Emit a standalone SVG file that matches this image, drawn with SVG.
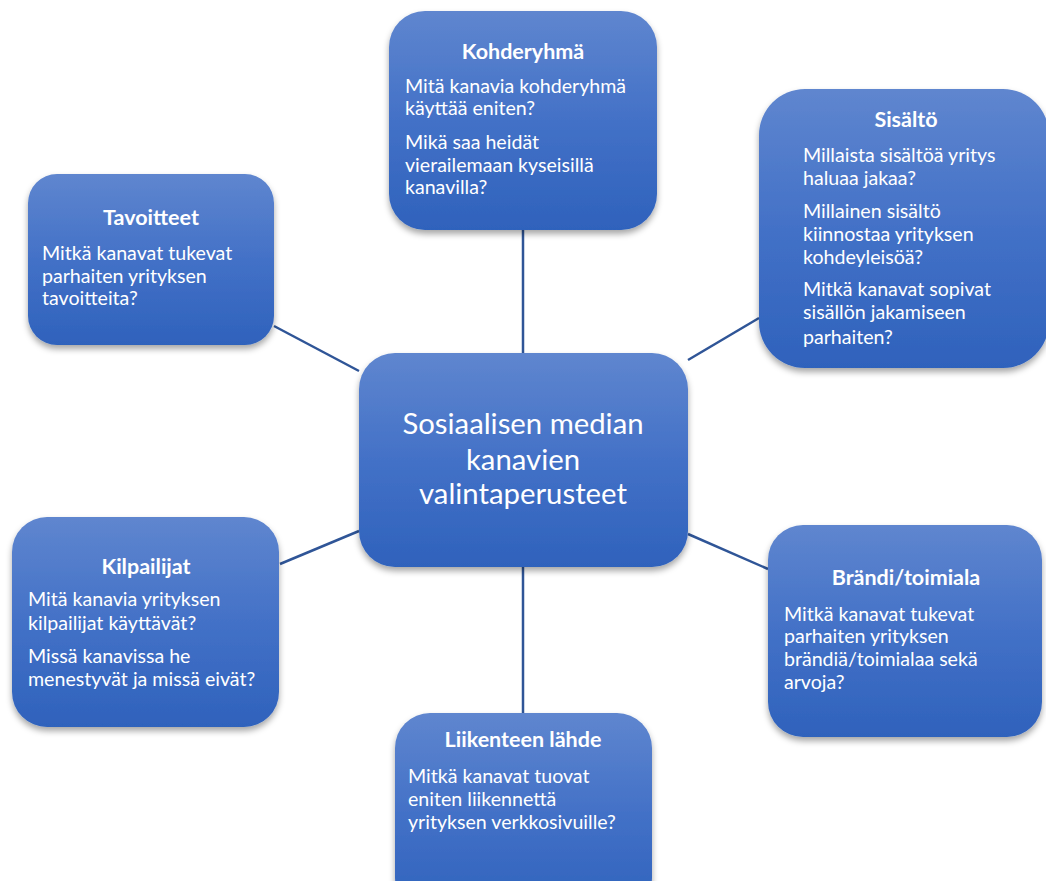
<svg xmlns="http://www.w3.org/2000/svg" width="1046" height="881" viewBox="0 0 1046 881">
<defs>
<linearGradient id="g" x1="0" y1="0" x2="0" y2="1">
<stop offset="0" stop-color="#5f86cf"/>
<stop offset="0.5" stop-color="#4371c7"/>
<stop offset="1" stop-color="#2f62bc"/>
</linearGradient>
<filter id="sh" x="-10%" y="-10%" width="120%" height="125%">
<feDropShadow dx="0" dy="4" stdDeviation="3" flood-color="#000" flood-opacity="0.35"/>
</filter>
</defs>
<style>
.box{fill:url(#g);filter:url(#sh)}
.t{font-family:Lato,"Open Sans",sans-serif;font-weight:bold;font-size:21.5px;fill:#fff;text-anchor:middle}
.b{font-family:Lato,"Open Sans",sans-serif;font-size:19.6px;fill:#fff}
.c{font-family:Lato,"Open Sans",sans-serif;font-size:29.3px;fill:#fff;text-anchor:middle}
.ln{stroke:#2f5597;stroke-width:2.5;fill:none}
</style>
<rect width="1046" height="881" fill="#fff"/>
<g id="connectors">
<line class="ln" x1="523" y1="230" x2="523" y2="354"/>
<line class="ln" x1="274" y1="326" x2="359" y2="371"/>
<line class="ln" x1="688" y1="360" x2="759" y2="318"/>
<line class="ln" x1="280" y1="564" x2="359" y2="531"/>
<line class="ln" x1="688" y1="534" x2="768" y2="569"/>
<line class="ln" x1="523" y1="566" x2="523" y2="714"/>
</g>
<g id="kohderyhma">
<rect class="box" x="389" y="11" width="268" height="219" rx="36"/>
<text class="t" x="523" y="59">Kohderyhmä</text>
<text class="b" x="405" y="93">Mitä kanavia kohderyhmä</text>
<text class="b" x="405" y="115">käyttää eniten?</text>
<text class="b" x="405" y="149">Mikä saa heidät</text>
<text class="b" x="405" y="172">vierailemaan kyseisillä</text>
<text class="b" x="405" y="194">kanavilla?</text>
</g>
<g id="sisalto">
<rect class="box" x="759" y="89" width="290" height="279" rx="46"/>
<text class="t" x="906" y="127">Sisältö</text>
<text class="b" x="803" y="162">Millaista sisältöä yritys</text>
<text class="b" x="803" y="185">haluaa jakaa?</text>
<text class="b" x="803" y="218">Millainen sisältö</text>
<text class="b" x="803" y="241">kiinnostaa yrityksen</text>
<text class="b" x="803" y="264">kohdeyleisöä?</text>
<text class="b" x="803" y="296">Mitkä kanavat sopivat</text>
<text class="b" x="803" y="319">sisällön jakamiseen</text>
<text class="b" x="803" y="344">parhaiten?</text>
</g>
<g id="tavoitteet">
<rect class="box" x="28" y="174" width="246" height="171" rx="29"/>
<text class="t" x="151" y="225">Tavoitteet</text>
<text class="b" x="42" y="260">Mitkä kanavat tukevat</text>
<text class="b" x="42" y="283">parhaiten yrityksen</text>
<text class="b" x="42" y="305">tavoitteita?</text>
</g>
<g id="keskus">
<rect class="box" x="359" y="353" width="329" height="214" rx="36"/>
<text class="c" x="523" y="434">Sosiaalisen median</text>
<text class="c" x="523" y="470">kanavien</text>
<text class="c" x="523" y="504">valintaperusteet</text>
</g>
<g id="kilpailijat">
<rect class="box" x="12" y="517" width="267" height="210" rx="35"/>
<text class="t" x="146" y="574">Kilpailijat</text>
<text class="b" x="28" y="606">Mitä kanavia yrityksen</text>
<text class="b" x="28" y="630">kilpailijat käyttävät?</text>
<text class="b" x="28" y="663">Missä kanavissa he</text>
<text class="b" x="28" y="686">menestyvät ja missä eivät?</text>
</g>
<g id="brandi">
<rect class="box" x="768" y="525" width="274" height="212" rx="35"/>
<text class="t" x="906" y="585">Brändi/toimiala</text>
<text class="b" x="784" y="621">Mitkä kanavat tukevat</text>
<text class="b" x="784" y="643">parhaiten yrityksen</text>
<text class="b" x="784" y="666">brändiä/toimialaa sekä</text>
<text class="b" x="784" y="689">arvoja?</text>
</g>
<g id="liikenne">
<rect class="box" x="395" y="713" width="257" height="200" rx="35"/>
<text class="t" x="523" y="747">Liikenteen lähde</text>
<text class="b" x="408" y="783">Mitkä kanavat tuovat</text>
<text class="b" x="408" y="806">eniten liikennettä</text>
<text class="b" x="408" y="829">yrityksen verkkosivuille?</text>
</g>
</svg>
